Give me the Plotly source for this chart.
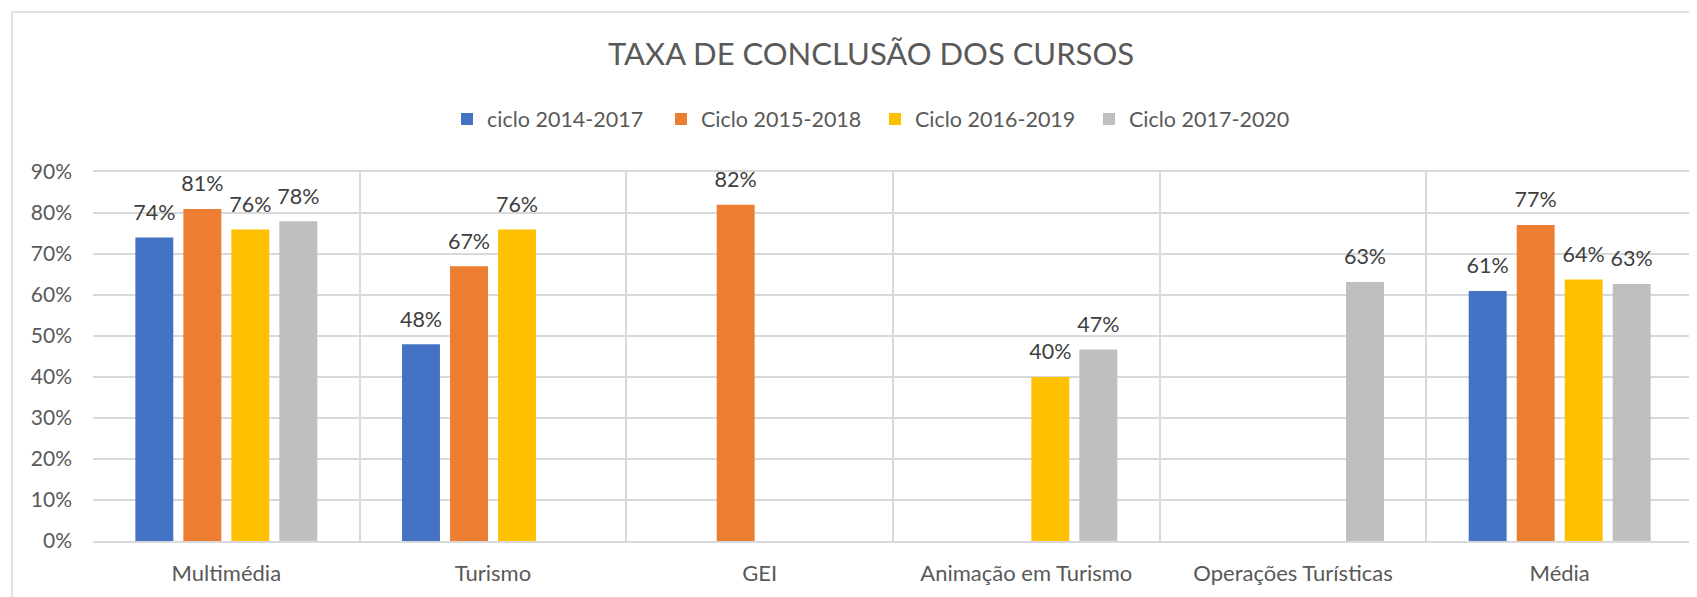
import plotly.graph_objects as go

categories = ["Multimédia", "Turismo", "GEI", "Animação em Turismo", "Operações Turísticas", "Média"]
series_names = ["ciclo 2014-2017", "Ciclo 2015-2018", "Ciclo 2016-2019", "Ciclo 2017-2020"]
ciclo_2014_2017 = [0.74, 0.48, None, None, None, 0.61]
ciclo_2015_2018 = [0.81, 0.67, 0.82, None, None, 0.771]
ciclo_2016_2019 = [0.76, 0.76, None, 0.40, None, 0.638]
ciclo_2017_2020 = [0.78, None, None, 0.467, 0.632, 0.627]
colors = ["#4472C4", "#ED7D31", "#FFC000", "#BFBFBF"]
y_ticks = [0, 0.1, 0.2, 0.3, 0.4, 0.5, 0.6, 0.7, 0.8, 0.9]

FONT = "Lato"
OFF = 8  # page body margin
W, H = 1697 - OFF, 597 - OFF
# absolute plot area in the screenshot: x 93..1693, y 172..541
L = 93 - OFF
T = 172 - OFF
R = (W + OFF) - 1693
B = (H + OFF) - 541
pw, ph = W - L - R, H - T - B

fig = go.Figure()
all_series = [ciclo_2014_2017, ciclo_2015_2018, ciclo_2016_2019, ciclo_2017_2020]
for name, vals, col in zip(series_names, all_series, colors):
    fig.add_trace(go.Bar(
        x=categories, y=vals, name=name, marker=dict(color=col, line=dict(width=0)),
        hoverinfo="skip",
    ))
for name, vals in zip(series_names, all_series):
    fig.add_trace(go.Scatter(
        x=categories, y=vals, name=name, mode="markers+text", showlegend=False,
        marker=dict(size=18, color="rgba(0,0,0,0)"),
        texttemplate="%{y:.0%}", textposition="top center", cliponaxis=False,
        textfont=dict(family=FONT, size=21.5, color="#404040"), hoverinfo="skip",
    ))

def abs_x(px):
    return (px - OFF - L) / pw

def abs_y(py):
    return (H - B - (py - OFF)) / ph

fig.update_layout(
    width=W, height=H,
    margin=dict(l=L, r=R, t=T, b=B),
    paper_bgcolor="white", plot_bgcolor="white",
    barmode="group", bargap=0.28, bargroupgap=0.21,
    scattermode="group", scattergap=0.28,
    font=dict(family=FONT, color="#595959", size=20),
    title=dict(text="TAXA DE CONCLUSÃO DOS CURSOS", x=abs_x(871), xref="paper", xanchor="center",
               y=1 - (54 - OFF) / H, yref="container", yanchor="middle",
               font=dict(family=FONT, size=31, color="#595959")),
    legend=dict(orientation="h", x=abs_x(875), xanchor="center", y=abs_y(119), yanchor="middle",
                font=dict(family=FONT, size=21.5, color="#595959"), entrywidth=169, entrywidthmode="pixels",
                itemclick=False, traceorder="normal"),
    xaxis=dict(tickson="boundaries", showgrid=True, gridcolor="#d9d9d9", gridwidth=1.5,
               showline=True, linecolor="#d9d9d9", linewidth=1.5, mirror=True, ticks="",
               ticklabelstandoff=12, tickfont=dict(family=FONT, size=22, color="#595959")),
    yaxis=dict(range=[0, 0.9], tickvals=y_ticks, tickformat=".0%", showgrid=True, gridcolor="#d9d9d9",
               gridwidth=1.5, zeroline=False, showline=False, ticks="", ticklabelstandoff=20,
               tickfont=dict(family=FONT, size=21, color="#595959")),
    shapes=[dict(type="rect", xref="paper", yref="paper", x0=abs_x(12), x1=abs_x(1760), y0=abs_y(12), y1=abs_y(640),
                 line=dict(color="#d9d9d9", width=1.5), fillcolor="rgba(0,0,0,0)", layer="below")],
)

fig.write_html("out.html")
